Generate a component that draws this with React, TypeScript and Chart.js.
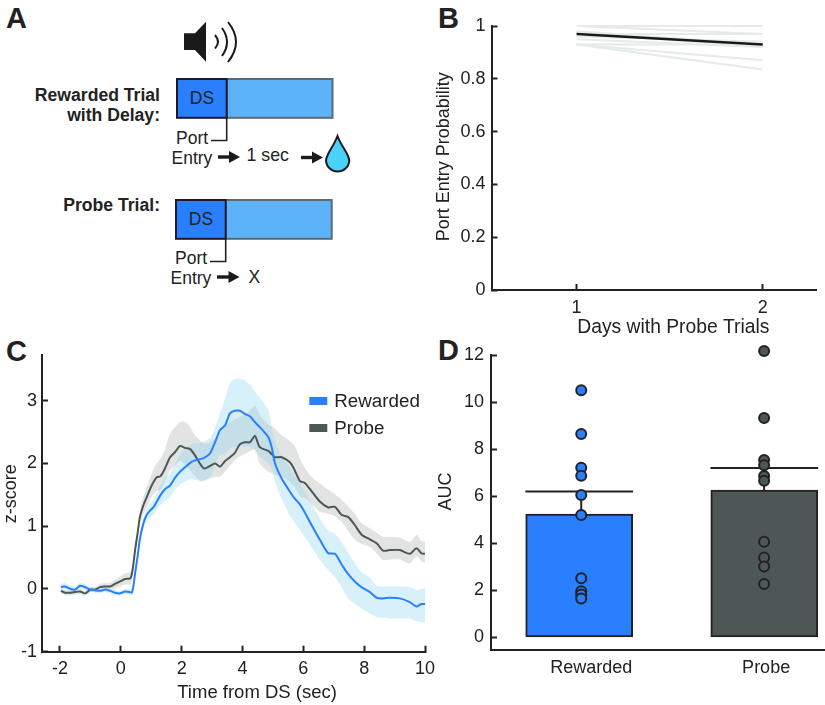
import React, { useEffect, useRef } from "react";
import { Chart, registerables } from "chart.js";

Chart.register(...registerables);

const FONT = "'Liberation Sans', Arial, sans-serif";
const INK = "#222222";
const BLUE = "#2a7fff";
const SLATE = "#4d5756";

// Panel B
const days = [1, 2];
const subjectsDay1 = [1, 1, 0.98, 0.975, 0.97, 0.96, 0.95, 0.93, 0.93, 0.93];
const subjectsDay2 = [1, 0.97, 0.93, 0.92, 0.97, 0.94, 0.92, 0.93, 0.87, 0.835];
const meanByDay = [0.97, 0.93];

// Panel C
const timeSec = [-1.97, -1.83, -1.64, -1.5, -1.34, -1.17, -1, -0.84, -0.68, -0.51, -0.35, -0.19, -0.02, 0.14, 0.31, 0.36, 0.41, 0.47, 0.55, 0.63, 0.74, 0.85, 0.96, 1.07, 1.18, 1.31, 1.45, 1.62, 1.78, 1.95, 2.11, 2.28, 2.44, 2.6, 2.74, 2.93, 3.1, 3.26, 3.43, 3.59, 3.75, 3.92, 4.08, 4.25, 4.41, 4.57, 4.85, 4.96, 5.07, 5.29, 5.56, 5.72, 5.89, 6.05, 6.27, 6.55, 6.82, 7.04, 7.26, 7.47, 7.69, 7.91, 8.19, 8.41, 8.62, 8.84, 9.17, 9.5, 9.72, 9.88, 10];
const rewardedMean = [0.03, 0.04, 0, -0.01, 0.05, 0.03, -0.01, -0.02, -0.03, -0.01, -0.03, -0.06, -0.07, -0.04, -0.05, -0.06, 0.03, 0.25, 0.51, 0.8, 1.04, 1.18, 1.25, 1.3, 1.39, 1.5, 1.59, 1.65, 1.77, 1.87, 1.94, 2.01, 2.05, 2.07, 2.09, 2.16, 2.34, 2.53, 2.61, 2.8, 2.84, 2.84, 2.79, 2.75, 2.66, 2.58, 2.42, 2.26, 2.0, 1.76, 1.55, 1.44, 1.35, 1.22, 1.02, 0.78, 0.57, 0.56, 0.39, 0.24, 0.12, 0.03, -0.05, -0.14, -0.15, -0.14, -0.15, -0.21, -0.28, -0.24, -0.24];
const rewardedUpper = [0.08, 0.09, 0.05, 0.04, 0.1, 0.08, 0.03, 0.02, 0.01, 0.03, 0.01, -0.02, -0.03, 0, 0, -0.01, 0.07, 0.3, 0.57, 0.87, 1.12, 1.27, 1.36, 1.42, 1.52, 1.66, 1.77, 1.85, 1.99, 2.14, 2.24, 2.3, 2.33, 2.33, 2.35, 2.4, 2.58, 2.8, 3.04, 3.28, 3.35, 3.35, 3.32, 3.25, 3.15, 3.05, 2.85, 2.58, 2.35, 2.12, 1.93, 1.8, 1.68, 1.55, 1.36, 1.12, 0.93, 0.88, 0.75, 0.58, 0.42, 0.27, 0.18, 0.05, 0.04, 0.04, 0.04, 0.03, -0.02, 0, 0.02];
const rewardedLower = [-0.02, -0.01, -0.05, -0.06, 0, -0.02, -0.05, -0.06, -0.07, -0.05, -0.07, -0.1, -0.11, -0.08, -0.09, -0.1, -0.01, 0.2, 0.45, 0.72, 0.96, 1.09, 1.14, 1.18, 1.26, 1.34, 1.41, 1.47, 1.58, 1.67, 1.71, 1.75, 1.74, 1.72, 1.72, 1.79, 1.97, 2.13, 2.16, 2.24, 2.26, 2.28, 2.26, 2.27, 2.22, 2.12, 2.0, 1.92, 1.71, 1.44, 1.17, 1.06, 0.94, 0.82, 0.67, 0.46, 0.3, 0.19, 0.03, -0.15, -0.23, -0.31, -0.39, -0.45, -0.46, -0.47, -0.47, -0.47, -0.52, -0.53, -0.53];
const probeMean = [-0.03, -0.06, -0.06, -0.05, -0.04, -0.07, -0.01, -0.01, 0.03, 0.04, 0.04, 0.08, 0.12, 0.16, 0.17, 0.23, 0.38, 0.62, 0.88, 1.15, 1.33, 1.46, 1.59, 1.7, 1.78, 1.8, 1.92, 2.1, 2.18, 2.28, 2.25, 2.23, 2.13, 2.0, 1.92, 1.96, 2.0, 1.95, 2.04, 2.1, 2.17, 2.31, 2.34, 2.34, 2.44, 2.26, 2.2, 2.15, 2.1, 2.1, 2.02, 1.89, 1.72, 1.69, 1.56, 1.39, 1.3, 1.31, 1.18, 1.15, 1.02, 0.87, 0.79, 0.73, 0.61, 0.62, 0.62, 0.56, 0.65, 0.57, 0.56];
const probeUpper = [0.01, -0.02, -0.02, -0.01, 0, -0.03, 0.03, 0.03, 0.08, 0.09, 0.1, 0.15, 0.2, 0.25, 0.27, 0.33, 0.47, 0.7, 0.97, 1.26, 1.47, 1.62, 1.76, 1.9, 2.0, 2.08, 2.22, 2.48, 2.58, 2.66, 2.66, 2.58, 2.45, 2.37, 2.32, 2.34, 2.4, 2.48, 2.58, 2.66, 2.7, 2.75, 2.79, 2.85, 2.93, 2.78, 2.62, 2.6, 2.56, 2.45, 2.36, 2.28, 2.08, 1.93, 1.79, 1.68, 1.58, 1.51, 1.42, 1.32, 1.2, 1.05, 0.97, 0.9, 0.83, 0.83, 0.82, 0.75, 0.86, 0.77, 0.75];
const probeLower = [-0.07, -0.1, -0.1, -0.09, -0.08, -0.11, -0.05, -0.05, -0.02, -0.01, -0.02, 0.01, 0.04, 0.07, 0.07, 0.13, 0.29, 0.54, 0.79, 1.04, 1.19, 1.3, 1.42, 1.51, 1.56, 1.58, 1.72, 1.89, 1.97, 2.05, 1.98, 1.89, 1.8, 1.73, 1.73, 1.76, 1.79, 1.79, 1.87, 1.97, 2.05, 2.12, 2.15, 2.2, 2.22, 2.0, 1.87, 1.85, 1.82, 1.8, 1.7, 1.62, 1.48, 1.45, 1.35, 1.23, 1.2, 1.16, 1.07, 0.93, 0.79, 0.72, 0.67, 0.57, 0.46, 0.47, 0.47, 0.41, 0.52, 0.44, 0.41];

// Panel D
const aucCategories = ["Rewarded", "Probe"];
const aucMeans = [5.24, 6.26];
const aucErrorTops = [6.2, 7.2];
const rewardedAuc = [10.5, 8.64, 7.21, 6.87, 6.05, 5.2, 2.52, 1.97, 1.83, 1.66];
const probeAuc = [12.17, 9.32, 7.54, 7.32, 6.86, 6.66, 4.07, 3.4, 3.02, 2.27];

const zeroFit = (s: any, w?: number, h?: number) => {
  if (w !== undefined) s.width = w;
  if (h !== undefined) s.height = h;
  s.paddingTop = 0; s.paddingBottom = 0; s.paddingLeft = 0; s.paddingRight = 0;
};

const panelText = {
  id: "panelText",
  afterDraw(chart: any, _a: any, opts: any) {
    const ctx = chart.ctx;
    const { left, bottom } = chart.chartArea;
    ctx.save();
    ctx.fillStyle = INK;
    ctx.textBaseline = "alphabetic";
    if (opts.xTitle) {
      const t = opts.xTitle;
      ctx.font = `${t.size}px ${FONT}`;
      ctx.textAlign = "center";
      ctx.fillText(t.text, chart.scales.x.getPixelForValue(t.value), bottom + t.offset);
    }
    if (opts.yTitle) {
      const t = opts.yTitle;
      ctx.save();
      ctx.font = `${t.size}px ${FONT}`;
      ctx.textAlign = "center";
      ctx.translate(left - t.offset, chart.scales.y.getPixelForValue(t.value));
      ctx.rotate(-Math.PI / 2);
      ctx.fillText(t.text, 0, 0);
      ctx.restore();
    }
    if (opts.legend) {
      const l = opts.legend;
      l.items.forEach((it: any, i: number) => {
        const y = l.y + i * l.gap;
        ctx.fillStyle = it.color;
        ctx.fillRect(l.x, y - 4, 18, 8);
        ctx.fillStyle = INK;
        ctx.font = `18.8px ${FONT}`;
        ctx.textAlign = "left";
        ctx.textBaseline = "middle";
        ctx.fillText(it.text, l.x + 25, y + 1);
      });
    }
    ctx.restore();
  },
};

const tickFont = { family: FONT, size: 18 };

const axis = (extra: any) => ({
  type: "linear",
  border: { color: INK, width: 2 },
  ...extra,
  grid: { drawOnChartArea: false, color: INK, tickColor: INK, tickWidth: 2, tickLength: -6, ...(extra.grid || {}) },
  ticks: { color: INK, font: tickFont, includeBounds: false, maxRotation: 0, autoSkip: false, ...(extra.ticks || {}) },
});

function buildB(canvas: HTMLCanvasElement) {
  const gray = subjectsDay1.map((v, i) => ({
    data: [{ x: days[0], y: v }, { x: days[1], y: subjectsDay2[i] }],
    borderColor: "#e6eaea", borderWidth: 2, pointRadius: 0, showLine: true, clip: false,
  }));
  return new Chart(canvas, {
    type: "scatter",
    data: {
      datasets: [
        { data: days.map((d, i) => ({ x: d, y: meanByDay[i] })), borderColor: "#1a1a1a", borderWidth: 2.5, pointRadius: 0, showLine: true, clip: false },
        ...gray,
      ],
    },
    options: {
      animation: false, responsive: false,
      layout: { padding: { top: 26, right: 8.3 }, autoPadding: false },
      plugins: {
        legend: { display: false }, tooltip: { enabled: false },
        panelText: {
          xTitle: { text: "Days with Probe Trials", value: 1.52, offset: 43, size: 19.3 },
          yTitle: { text: "Port Entry Probability", value: 0.505, offset: 43, size: 18 },
        },
      },
      scales: {
        x: axis({ min: 0.543, max: 2.29, afterFit: (s: any) => zeroFit(s, undefined, 50), ticks: { stepSize: 1, padding: 13, callback: (v: number) => String(v) } }),
        y: axis({ min: 0, max: 1, afterFit: (s: any) => zeroFit(s, 71.5), ticks: { stepSize: 0.2, padding: 12, callback: (v: number) => String(Math.round(v * 10) / 10) } }),
      },
    } as any,
    plugins: [panelText],
  } as any);
}

function buildC(canvas: HTMLCanvasElement) {
  const pts = (a: number[]) => a.map((y, i) => ({ x: timeSec[i], y }));
  const line = (a: number[], c: string) => ({ data: pts(a), borderColor: c, borderWidth: 2, pointRadius: 0, tension: 0.25, fill: false });
  const band = (a: number[], fill: any, bg: string) => ({ data: pts(a), borderWidth: 0, borderColor: "transparent", pointRadius: 0, tension: 0.25, fill, backgroundColor: bg });
  return new Chart(canvas, {
    type: "line",
    data: {
      datasets: [
        line(rewardedMean, BLUE),
        line(probeMean, SLATE),
        band(rewardedUpper, "+1", "rgba(145,213,238,0.36)"),
        band(rewardedLower, false, "transparent"),
        band(probeUpper, "+1", "rgba(62,75,68,0.15)"),
        band(probeLower, false, "transparent"),
      ],
    },
    options: {
      animation: false, responsive: false,
      layout: { padding: { top: 15, right: 15 }, autoPadding: false },
      plugins: {
        legend: { display: false }, tooltip: { enabled: false },
        panelText: {
          xTitle: { text: "Time from DS (sec)", value: 4.48, offset: 46, size: 18.5 },
          yTitle: { text: "z-score", value: 1.52, offset: 26, size: 18 },
          legend: { x: 309.3, y: 61, gap: 27, items: [{ text: "Rewarded", color: BLUE }, { text: "Probe", color: SLATE }] },
        },
      },
      scales: {
        x: axis({ min: -2.59, max: 10, afterFit: (s: any) => zeroFit(s, undefined, 53.3), ticks: { stepSize: 2, padding: 13 } }),
        y: axis({ min: -1, max: 3.73, afterFit: (s: any) => zeroFit(s, 42), ticks: { stepSize: 1, padding: 11 } }),
      },
    } as any,
    plugins: [panelText],
  } as any);
}

function buildD(canvas: HTMLCanvasElement) {
  const barX = [1, 2];
  const dotX = [1.011, 1.999];
  const halfCap = 0.291;
  const labelAt = [1.065, 2.01];
  const rule = (a: any, b: any) => ({ type: "scatter", data: [a, b], showLine: true, borderColor: "#222", borderWidth: 2, pointRadius: 0, order: 2, clip: false });
  const dots = (vals: number[], x: number, c: string) => ({
    type: "scatter", data: vals.map((y) => ({ x, y })), backgroundColor: c, borderColor: "#222", borderWidth: 2, pointRadius: 5, order: 1, clip: false,
  });
  return new Chart(canvas, {
    type: "bar",
    data: {
      datasets: [
        dots(rewardedAuc, dotX[0], BLUE),
        dots(probeAuc, dotX[1], SLATE),
        rule({ x: dotX[0], y: aucMeans[0] }, { x: dotX[0], y: aucErrorTops[0] }),
        rule({ x: dotX[1], y: aucMeans[1] }, { x: dotX[1], y: aucErrorTops[1] }),
        rule({ x: barX[0] - halfCap, y: aucErrorTops[0] }, { x: barX[0] + halfCap, y: aucErrorTops[0] }),
        rule({ x: barX[1] - halfCap, y: aucErrorTops[1] }, { x: barX[1] + halfCap, y: aucErrorTops[1] }),
        {
          type: "bar", data: barX.map((x, i) => ({ x, y: aucMeans[i] })), backgroundColor: [BLUE, SLATE],
          borderColor: "#222", borderWidth: 2, borderSkipped: false, barThickness: 107, order: 3,
        },
      ],
    },
    options: {
      animation: false, responsive: false,
      layout: { padding: { top: 20 }, autoPadding: false },
      plugins: {
        legend: { display: false }, tooltip: { enabled: false },
        panelText: { yTitle: { text: "AUC", value: 6.2, offset: 40.5, size: 18 } },
      },
      scales: {
        x: axis({
          min: 0.5235, max: 2.328, offset: false,
          grid: { display: false, offset: false, tickLength: 0 },
          afterFit: (s: any) => zeroFit(s, undefined, 55),
          afterBuildTicks: (s: any) => { s.ticks = labelAt.map((value) => ({ value })); },
          ticks: { padding: 7, callback: (_v: number, i: number) => aucCategories[i] },
        }),
        y: axis({ min: -0.53, max: 12, afterFit: (s: any) => zeroFit(s, 61), ticks: { stepSize: 2, padding: 13 } }),
      },
    } as any,
    plugins: [panelText],
  } as any);
}

const T = ({ x, y, size = 18, bold = false, anchor = "start", children }: any) => (
  <text x={x} y={y} fontFamily={FONT} fontSize={size} fontWeight={bold ? 700 : 400} textAnchor={anchor} fill={INK}>{children}</text>
);

const Arrow = ({ x1, x2, y }: any) => (
  <g fill="#1a1a1a" stroke="none">
    <rect x={x1} y={y - 1.7} width={x2 - x1 - 9} height={3.4} />
    <polygon points={`${x2 - 11},${y - 6} ${x2},${y} ${x2 - 11},${y + 6}`} />
  </g>
);

const Trial = ({ x, y, xe }: any) => (
  <g strokeWidth={2}>
    <rect x={x + 49.7} y={y} width={xe - x - 49.7} height={38.8} fill="#5cb3f9" stroke="#5a6a78" />
    <rect x={x} y={y} width={49.7} height={38.8} fill={BLUE} stroke="#1a1a2a" />
    <path d={`M${x + 49.7} ${y + 39} V${y + 61.5} H${x + 34}`} fill="none" stroke="#222" strokeWidth={1.6} />
    <T x={x + 25} y={y + 25} anchor="middle" size={17.5}>DS</T>
  </g>
);

function Diagram() {
  return (
    <svg width={825} height={705} style={{ position: "absolute", left: 0, top: 0 }}>
      <T x={6} y={28} size={29} bold>A</T>
      <T x={438} y={27.7} size={29} bold>B</T>
      <T x={6} y={360.7} size={29} bold>C</T>
      <T x={438} y={360} size={29} bold>D</T>
      <polygon points="184,33.3 195,33.3 206,21.7 206,61.7 195,50 184,50" fill="#1a1a1a" />
      <g fill="none" stroke="#1a1a1a" strokeWidth={2}>
        <path d="M215 35 Q221 42 215 48.5" />
        <path d="M222 28 Q232 42 222 56" />
        <path d="M228 22 Q244 42 228 62" />
      </g>
      <T x={160} y={100.5} size={17.6} bold anchor="end">Rewarded Trial</T>
      <T x={160} y={120.5} size={17.6} bold anchor="end">with Delay:</T>
      <T x={160} y={210.7} size={17.6} bold anchor="end">Probe Trial:</T>
      <Trial x={177} y={79} xe={332.5} />
      <Trial x={176} y={200} xe={331.7} />
      <T x={176} y={144} size={17.5}>Port</T>
      <T x={171.5} y={164} size={17.5}>Entry</T>
      <Arrow x1={218} x2={240} y={157} />
      <T x={246.5} y={160.7} size={17.8}>1 sec</T>
      <Arrow x1={301} x2={323} y={157.5} />
      <path d="M337.5 136 C333 148 326 154 326 161 A11.7 11.7 0 0 0 349.3 161 C349.3 154 342 148 337.5 136 Z" fill="#4ad2fb" stroke="#1a1a1a" strokeWidth={2} />
      <T x={175} y={264} size={17.5}>Port</T>
      <T x={170.5} y={284} size={17.5}>Entry</T>
      <Arrow x1={217} x2={239.5} y={277} />
      <T x={248.5} y={282.7} size={17.5}>X</T>
    </svg>
  );
}

export default function App() {
  const b = useRef<HTMLCanvasElement>(null);
  const c = useRef<HTMLCanvasElement>(null);
  const d = useRef<HTMLCanvasElement>(null);
  useEffect(() => {
    const charts = [buildB(b.current!), buildC(c.current!), buildD(d.current!)];
    return () => charts.forEach((ch) => ch.destroy());
  }, []);
  const pos = (left: number, top: number): React.CSSProperties => ({ position: "absolute", left, top, display: "block" });
  return (
    <div style={{ position: "absolute", left: 0, top: 0, width: 825, height: 705, overflow: "hidden", background: "#fff" }}>
      <Diagram />
      <canvas ref={b} width={405} height={340} style={pos(420, 0)} />
      <canvas ref={c} width={440} height={365} style={pos(0, 340)} />
      <canvas ref={d} width={395} height={370} style={pos(430, 335)} />
    </div>
  );
}
